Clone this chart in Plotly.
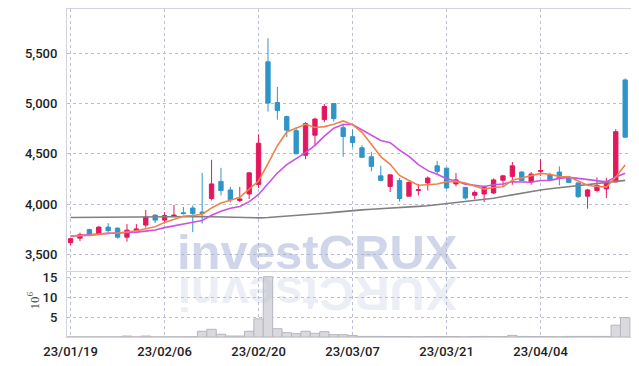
import plotly.graph_objects as go

# ---------------- data ----------------
dates = [
    "23/01/19", "23/01/20", "23/01/25", "23/01/26", "23/01/27", "23/01/30", "23/01/31",
    "23/02/01", "23/02/02", "23/02/03", "23/02/06", "23/02/07", "23/02/08", "23/02/09",
    "23/02/10", "23/02/13", "23/02/14", "23/02/15", "23/02/16", "23/02/17", "23/02/20",
    "23/02/21", "23/02/22", "23/02/23", "23/02/24", "23/02/27", "23/02/28",
    "23/03/02", "23/03/03", "23/03/06", "23/03/07", "23/03/08", "23/03/09", "23/03/10",
    "23/03/13", "23/03/14", "23/03/15", "23/03/16", "23/03/17", "23/03/20", "23/03/21",
    "23/03/22", "23/03/23", "23/03/24", "23/03/27", "23/03/28", "23/03/29", "23/03/30",
    "23/03/31", "23/04/03", "23/04/04", "23/04/05", "23/04/06", "23/04/07", "23/04/10",
    "23/04/11", "23/04/12", "23/04/13", "23/04/14", "23/04/17",
]
tick_labels = ["23/01/19", "23/02/06", "23/02/20", "23/03/07", "23/03/21", "23/04/04"]

open_ = [3615, 3660, 3745, 3705, 3770, 3760, 3670, 3738, 3790, 3890,
         3840, 3875, 3912, 3960, 3920, 4055, 4225, 4140, 4035, 4100,
         4195, 5415, 5010, 4870, 4730, 4485, 4685, 4840, 5000, 4760,
         4670, 4560, 4470, 4280, 4175, 4235, 4078, 4135, 4210, 4380,
         4357, 4200, 4165, 4087, 4100, 4110, 4237, 4275, 4318, 4220,
         4325, 4290, 4318, 4268, 4210, 4078, 4135, 4150, 4220, 5235]
high = [3660, 3715, 3755, 3780, 3810, 3765, 3800, 3800, 3940, 3895,
        3920, 3990, 3970, 3985, 4310, 4440, 4360, 4170, 4170, 4315,
        4695, 5650, 5165, 4880, 4765, 4815, 4860, 4995, 5005, 4800,
        4740, 4585, 4520, 4380, 4295, 4260, 4225, 4200, 4275, 4430,
        4360, 4308, 4170, 4135, 4182, 4255, 4290, 4418, 4325, 4318,
        4447, 4310, 4375, 4280, 4212, 4150, 4265, 4260, 4745, 5250]
low = [3590, 3630, 3688, 3700, 3710, 3655, 3625, 3735, 3765, 3810,
       3805, 3870, 3895, 3720, 3805, 4035, 4085, 4015, 4020, 4050,
       4160, 4920, 4840, 4665, 4495, 4445, 4585, 4815, 4820, 4470,
       4565, 4460, 4325, 4225, 4120, 4025, 4075, 4085, 4135, 4290,
       4150, 4175, 4045, 4045, 4020, 4100, 4170, 4192, 4228, 4192,
       4280, 4240, 4185, 4210, 4060, 3953, 4115, 4060, 4215, 4660]
close = [3655, 3695, 3690, 3770, 3735, 3670, 3740, 3752, 3870, 3840,
         3885, 3890, 3905, 3905, 3905, 4200, 4135, 4045, 4050, 4310,
         4605, 5005, 4930, 4735, 4500, 4800, 4845, 4970, 4850, 4672,
         4612, 4465, 4375, 4235, 4290, 4055, 4215, 4142, 4258, 4325,
         4160, 4240, 4060, 4115, 4165, 4240, 4280, 4380, 4232, 4298,
         4333, 4242, 4260, 4215, 4073, 4140, 4185, 4225, 4720, 4665]

ma5 = [3682, 3684, 3688, 3698, 3709, 3712, 3721, 3733, 3753, 3774,
       3817, 3847, 3878, 3885, 3898, 3961, 4010, 4038, 4067, 4148,
       4229, 4403, 4580, 4717, 4755, 4794, 4762, 4770, 4793, 4827,
       4790, 4714, 4595, 4472, 4395, 4284, 4234, 4187, 4192, 4199,
       4220, 4225, 4209, 4180, 4148, 4164, 4172, 4236, 4259, 4286,
       4305, 4297, 4273, 4270, 4225, 4186, 4175, 4168, 4269, 4387]
ma10 = [3680, 3688, 3696, 3703, 3708, 3711, 3714, 3720, 3730, 3742,
        3765, 3784, 3806, 3819, 3836, 3889, 3929, 3958, 3976, 4023,
        4095, 4207, 4309, 4392, 4452, 4512, 4583, 4675, 4755, 4791,
        4792, 4738, 4682, 4632, 4611, 4537, 4474, 4391, 4332, 4297,
        4252, 4230, 4198, 4186, 4174, 4192, 4199, 4222, 4220, 4217,
        4234, 4235, 4255, 4265, 4255, 4245, 4236, 4220, 4269, 4306]
ma_long = [3866, 3867, 3868, 3869, 3870, 3871, 3872, 3873, 3874, 3875,
           3876, 3877, 3877, 3876, 3875, 3873, 3870, 3867, 3864, 3862,
           3862, 3866, 3872, 3880, 3886, 3892, 3900, 3908, 3917, 3927,
           3935, 3942, 3948, 3955, 3962, 3968, 3972, 3976, 3982, 3992,
           4005, 4015, 4025, 4035, 4045, 4058, 4075, 4092, 4108, 4125,
           4140, 4152, 4163, 4172, 4182, 4192, 4202, 4212, 4222, 4235]

volume_m = [0.03, 0.03, 0.03, 0.03, 0.03, 0.03, 0.25, 0.03, 0.25, 0.03,
            0.03, 0.05, 0.05, 0.05, 1.45, 1.95, 0.7, 0.25, 0.25, 1.45,
            4.6, 15.3, 2.1, 1.1, 0.85, 1.45, 0.93, 1.35, 0.6, 0.6,
            0.4, 0.15, 0.15, 0.15, 0.12, 0.12, 0.12, 0.05, 0.12, 0.12,
            0.12, 0.12, 0.05, 0.12, 0.15, 0.1, 0.1, 0.4, 0.15, 0.12,
            0.1, 0.1, 0.05, 0.15, 0.15, 0.15, 0.15, 0.15, 3.0, 4.9]

price_ticks = [3500, 4000, 4500, 5000, 5500]
volume_ticks = [5, 10, 15]
volume_unit = "10<sup>6</sup>"
watermark = "investCRUX"

# ---------------- style ----------------
RED = "#e3175e"
BLUE = "#2f95c8"
GRID = "#b9bdd6"
BORDER = "#d2d3dc"
TICKFONT = dict(family="Roboto, DejaVu Sans, sans-serif", size=13, color="#222222",
                weight=500)

fig = go.Figure()

fig.add_trace(go.Bar(
    x=dates, y=volume_m, xaxis="x2", yaxis="y2", width=1.0,
    marker=dict(color="#dadade", line=dict(color="#b6b6be", width=1)),
    hoverinfo="skip", showlegend=False))

fig.add_trace(go.Scatter(x=dates, y=ma_long, mode="lines",
                         line=dict(color="#808080", width=1.6), showlegend=False))

fig.add_trace(go.Candlestick(
    x=dates, open=open_, high=high, low=low, close=close,
    increasing=dict(line=dict(color=RED, width=1), fillcolor=RED),
    decreasing=dict(line=dict(color=BLUE, width=1), fillcolor=BLUE),
    whiskerwidth=0, showlegend=False))

fig.add_trace(go.Scatter(x=dates, y=ma10, mode="lines",
                         line=dict(color="#cc50e2", width=1.6), showlegend=False))
fig.add_trace(go.Scatter(x=dates, y=ma5, mode="lines",
                         line=dict(color="#f0834c", width=1.6), showlegend=False))

x_common = dict(type="category", range=[-0.38, 59.62], tickvals=tick_labels,
                showgrid=True, gridcolor=GRID, griddash="dot", gridwidth=1,
                showline=True, mirror=True, linecolor=BORDER, linewidth=1,
                ticks="", zeroline=False)

# the page body has an 8px margin, so the figure is drawn 8px smaller
fig.update_layout(
    width=631, height=358,
    margin=dict(l=59, r=8, t=1, b=28.5, autoexpand=False),
    paper_bgcolor="white", plot_bgcolor="white",
    showlegend=False, boxgap=0.34,
    xaxis=dict(**x_common, anchor="y", showticklabels=False,
               rangeslider=dict(visible=False)),
    xaxis2=dict(**x_common, anchor="y2", matches="x", showticklabels=True,
                tickfont=TICKFONT, ticklabelstandoff=2),
    yaxis=dict(domain=[0.2024, 1], range=[3337, 5941], tickvals=price_ticks,
               tickformat=",", tickfont=TICKFONT, showgrid=True, gridcolor=GRID,
               griddash="dot", showline=True, mirror=True, linecolor=BORDER,
               ticks="", zeroline=False, ticklabelstandoff=6),
    yaxis2=dict(domain=[0, 0.1994], range=[0, 16.6], tickvals=volume_ticks,
                tickfont=TICKFONT, showgrid=True, gridcolor=GRID, griddash="dot",
                showline=True, mirror=True, linecolor=BORDER, ticks="",
                zeroline=False, ticklabelstandoff=6),
)

# ---------------- annotations ----------------
PW, PH = 564.0, 328.5
def px(x):
    return (x - 67.0) / PW
def py(y):
    return (337.5 - y) / PH

fig.add_annotation(text=volume_unit, x=px(33), y=py(301), xref="paper", yref="paper",
                   xanchor="center", yanchor="middle", textangle=-90, showarrow=False,
                   font=dict(family="Liberation Serif, serif", size=13, color="#444"))

WM_FONT = "Liberation Sans, Arial, sans-serif"
WM_SIZE = 49
fig.add_annotation(text="<b>%s</b>" % watermark, x=px(317.5), y=py(252.5),
                   xref="paper", yref="paper", xanchor="center", yanchor="middle",
                   showarrow=False,
                   font=dict(family=WM_FONT, size=WM_SIZE, color="rgba(165,175,212,0.52)"))

# mirrored reflection, built letter by letter
adv = {"i": 0.278, "n": 0.611, "v": 0.556, "e": 0.556, "s": 0.556, "t": 0.333,
       "C": 0.722, "R": 0.722, "U": 0.722, "X": 0.667}
total = sum(adv[c] for c in watermark) * WM_SIZE
cx = 317.5 - total / 2
for ch in watermark:
    w = adv[ch] * WM_SIZE
    fig.add_annotation(text="<b>%s</b>" % ch, x=px(cx + w / 2), y=py(295.0),
                       xref="paper", yref="paper", xanchor="center", yanchor="middle",
                       textangle=180, showarrow=False,
                       font=dict(family=WM_FONT, size=WM_SIZE,
                                 color="rgba(180,188,218,0.26)"))
    cx += w

fig.write_html("out.html")
